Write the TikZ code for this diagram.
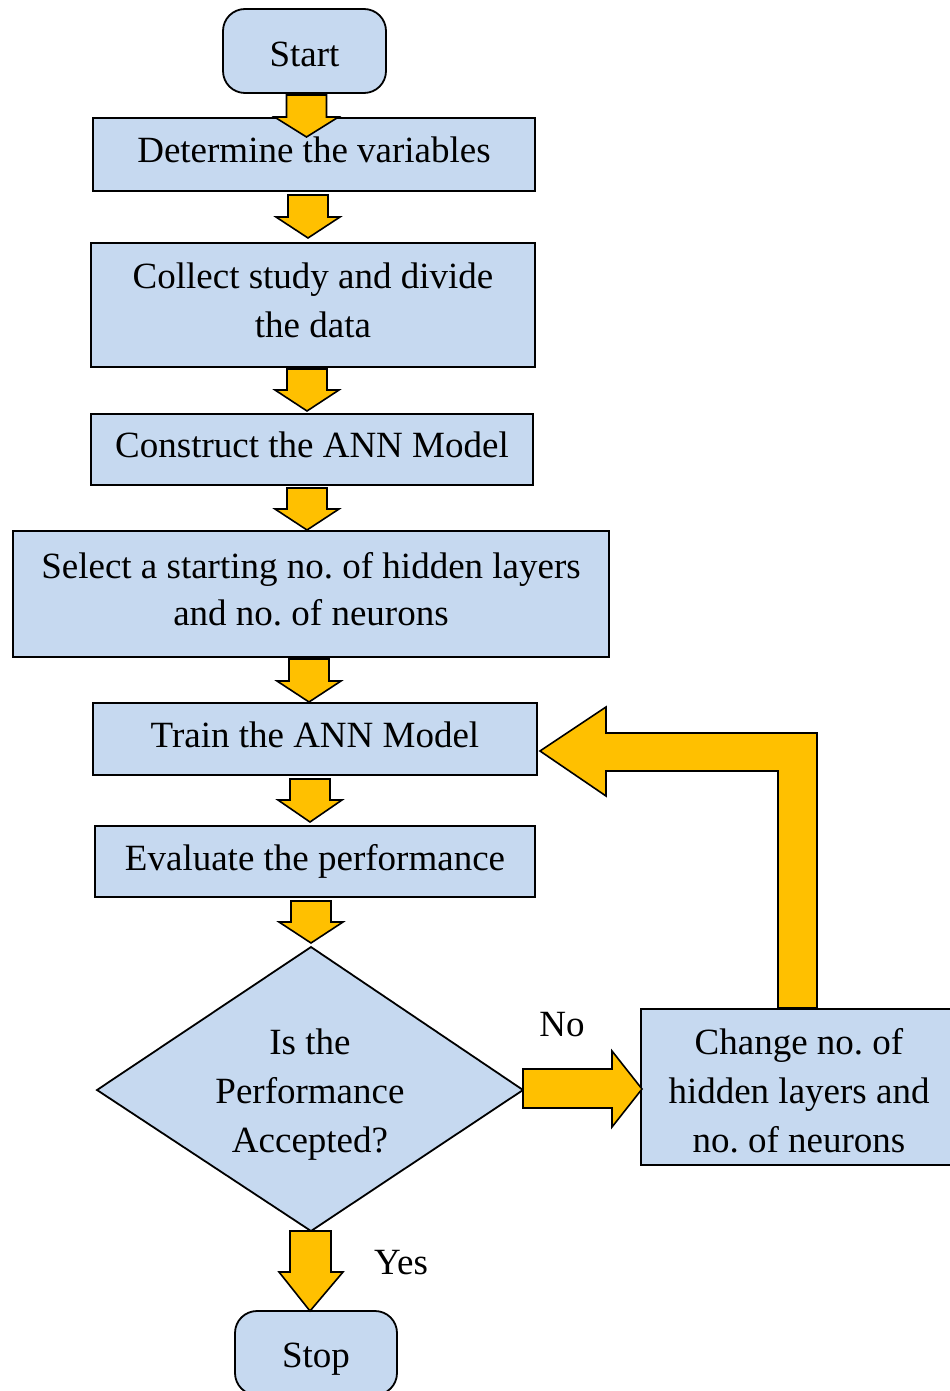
\documentclass[tikz,border=0pt]{standalone}
\usepackage{fontspec}
\setmainfont{Liberation Serif}
\frenchspacing
\definecolor{boxblue}{RGB}{198,217,240}
\definecolor{arrowyel}{RGB}{255,192,0}
\newcommand\dnarrow[4]{%
  \draw[barrow] (#1-20,#2) -- (#1+20,#2) -- (#1+20,#3) -- (#1+32,#3) -- (#1,#4) -- (#1-32,#3) -- (#1-20,#3) -- cycle;}
\begin{document}
\begin{tikzpicture}[x=0.5pt,y=-0.5pt,
  every node/.style={font=\fontsize{18.5}{24.5}\selectfont},
  procbox/.style={draw=black,line width=0.9pt,fill=boxblue,inner sep=0pt},
  termbox/.style={procbox,rounded corners=11pt},
  txt/.style={inner sep=0pt,align=center},
  barrow/.style={draw=black,line width=0.8pt,fill=arrowyel,line join=miter}]
\useasboundingbox (0,0) rectangle (949,1391);
% boxes
\node[termbox,minimum width=81.5pt,minimum height=42pt] (start) at (304.5,51) {};
\node[procbox,minimum width=221pt,minimum height=36.5pt] (det) at (314,154.5) {};
\node[procbox,minimum width=222pt,minimum height=62pt] (col) at (313,305) {};
\node[procbox,minimum width=221pt,minimum height=35.5pt] (con) at (312,449.5) {};
\node[procbox,minimum width=298pt,minimum height=63pt] (sel) at (311,594) {};
\node[procbox,minimum width=222pt,minimum height=36pt] (train) at (315,739) {};
\node[procbox,minimum width=220pt,minimum height=35.5pt] (eval) at (315,861.5) {};
\coordinate (dtop) at (311,947);
\coordinate (dright) at (523,1090);
\coordinate (dbot) at (311,1231);
\coordinate (dleft) at (97,1090);
\draw[procbox] (dtop) -- (dright) -- (dbot) -- (dleft) -- cycle;
\node[procbox,minimum width=158pt,minimum height=78pt] (chg) at (799,1087) {};
\node[termbox,minimum width=81pt,minimum height=42pt] (stop) at (316,1353) {};
% texts
\node[txt] (startt) at ([yshift=-1.5pt]start.center) {Start};
\node[txt] (dett) at ([yshift=2.5pt]det.center) {Determine the variables};
\node[txt] (colt) at ([yshift=2.5pt]col.center) {Collect study and divide\\the data};
\node[txt] (cont) at ([yshift=2.5pt]con.center) {Construct the ANN Model};
\node[txt,font=\fontsize{18.5}{23.5}\selectfont] (selt) at ([yshift=2.5pt]sel.center) {Select a starting no. of hidden layers\\and no. of neurons};
\node[txt] (traint) at ([yshift=2pt]train.center) {Train the ANN Model};
\node[txt] (evalt) at (eval.center) {Evaluate the performance};
\node[txt] (q) at (310,1094.5) {Is the\\Performance\\Accepted?};
\node[txt] (chgt) at ([yshift=-2pt]chg.center) {Change no. of\\hidden layers and\\no. of neurons};
\node[txt] (stopt) at ([yshift=-3pt]stop.center) {Stop};
% arrows
\dnarrow{306.5}{95}{117}{137}
\dnarrow{308}{195}{217}{238}
\dnarrow{307}{369}{390}{411}
\dnarrow{307}{488}{509}{530}
\dnarrow{309}{659}{681}{702}
\dnarrow{310}{779}{800}{822}
\dnarrow{311}{901}{922}{943}
\draw[barrow] (290,1231) -- (331,1231) -- (331,1272) -- (343,1272) -- (310,1311) -- (279,1272) -- (290,1272) -- cycle;
\draw[barrow] (523,1069) -- (612,1069) -- (612,1051) -- (642,1089) -- (612,1127) -- (612,1108) -- (523,1108) -- cycle;
\draw[barrow] (778,1008) -- (778,771) -- (606,771) -- (606,796) -- (540,751) -- (606,707) -- (606,733) -- (817,733) -- (817,1008) -- cycle;
% labels
\node[txt] (no) at (562,1025) {No};
\node[txt] (yes) at (401,1263) {Yes};
\end{tikzpicture}
\end{document}
